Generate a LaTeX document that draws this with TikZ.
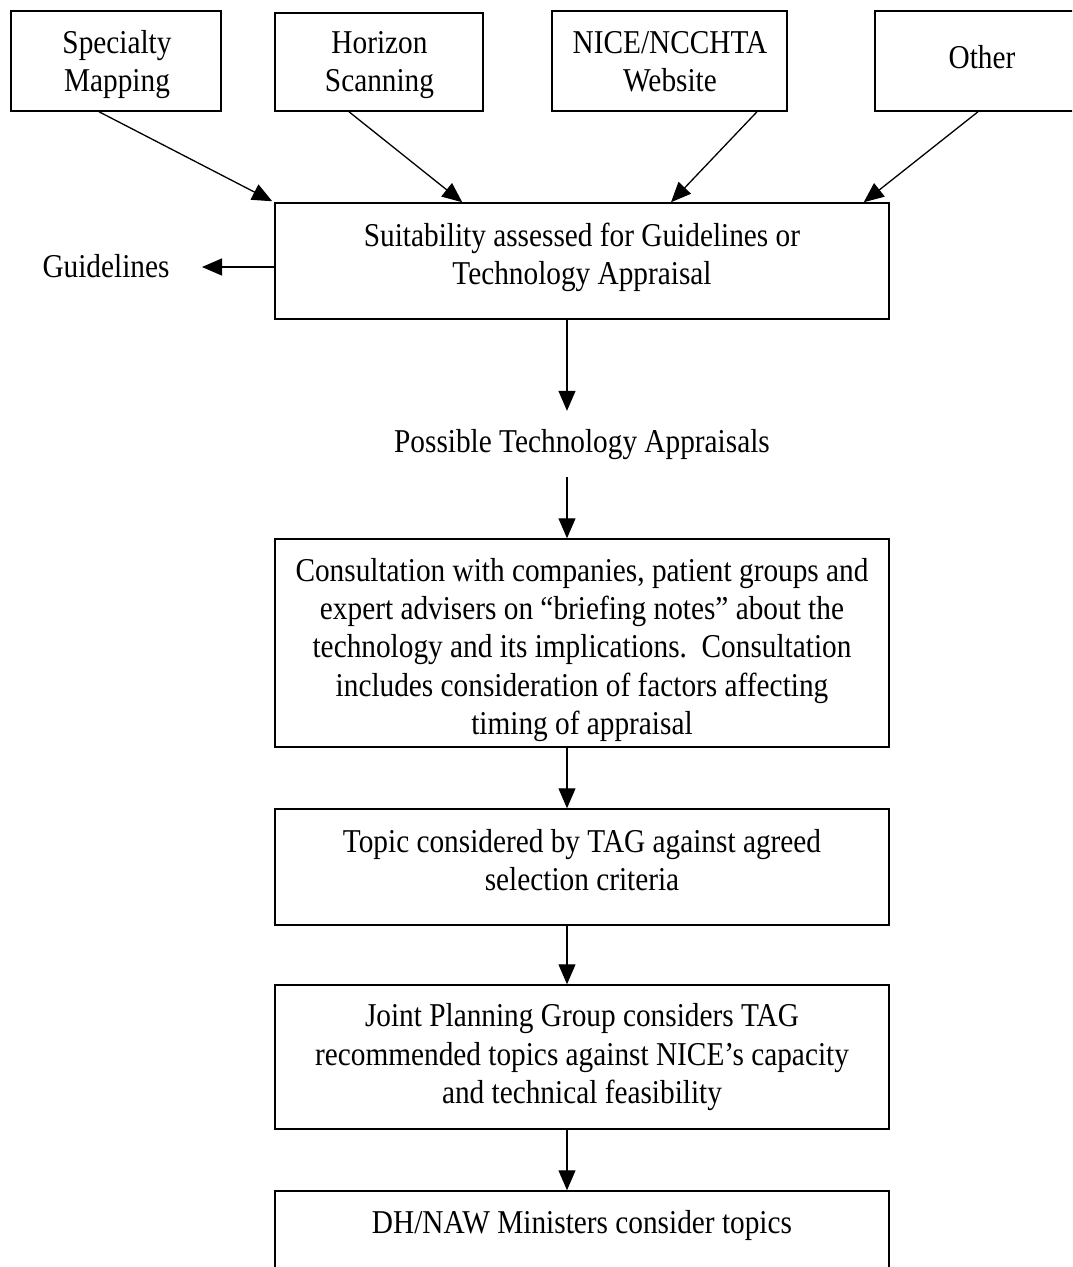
\documentclass[tikz,border=0pt]{standalone}
\usepackage{fontspec}
\setmainfont{Liberation Serif}[FakeStretch=0.88]
\usetikzlibrary{arrows.meta,calc}
\newcommand{\mltext}[1]{\begin{tabular}[t]{@{}c@{}}#1\end{tabular}}
\begin{document}
\begin{tikzpicture}[x=1pt,y=-1pt,
  box/.style={draw=black,line width=1.5pt,inner sep=0pt,fill=none},
  txt/.style={inner sep=0pt,anchor=base,font=\fontsize{33.3}{38.3}\selectfont},
  arr/.style={line width=1.3pt,-{Triangle[length=20pt,width=17pt]}}]
\useasboundingbox (0,0) rectangle (1072,1267);
\clip (0,0) rectangle (1072,1267);
% source boxes
\node[box,minimum width=210,minimum height=100] (spec) at (116,61) {};
\node[box,minimum width=208,minimum height=98] (hor) at (379,62) {};
\node[box,minimum width=235,minimum height=100] (nice) at (669.5,61) {};
\node[box,minimum width=212,minimum height=100] (other) at (981,61) {};
\node[txt] (tspec) at (117,53) {\mltext{Specialty\\Mapping}};
\node[txt] (thor) at (379.5,53) {\mltext{Horizon\\Scanning}};
\node[txt] (tnice) at (670,53) {\mltext{NICE/NCCHTA\\Website}};
\node[txt] (tother) at (982,68) {Other};
% main column
\node[box,minimum width=614,minimum height=116] (suit) at (582,261) {};
\node[txt] (tsuit) at ([yshift=-44pt]suit.north) {\mltext{Suitability assessed for Guidelines or\\Technology Appraisal}};
\node[txt] (guide) at (106,277) {Guidelines};
\coordinate (gtip) at (202,267);
\node[txt,text height=23pt,text depth=7pt,inner ysep=18pt] (poss) at (582,452) {Possible Technology Appraisals};
\node[box,minimum width=614,minimum height=208] (cons) at (582,643) {};
\node[txt] (tcons) at ([yshift=-43pt]cons.north) {\mltext{Consultation with companies, patient groups and\\expert advisers on “briefing notes” about the\\technology and its implications.\ \ Consultation\\includes consideration of factors affecting\\timing of appraisal}};
\node[box,minimum width=614,minimum height=116] (topic) at (582,867) {};
\node[txt] (ttopic) at ([yshift=-44pt]topic.north) {\mltext{Topic considered by TAG against agreed\\selection criteria}};
\node[box,minimum width=614,minimum height=144] (joint) at (582,1057) {};
\node[txt] (tjoint) at ([yshift=-42.5pt]joint.north) {\mltext{Joint Planning Group considers TAG\\recommended topics against NICE’s capacity\\and technical feasibility}};
\node[box,minimum width=614,minimum height=116] (dh) at (582,1249) {};
\node[txt] (tdh) at ([yshift=-43pt]dh.north) {DH/NAW Ministers consider topics};
% connectors
\coordinate (ax) at (567,0);
\draw[arr] ([xshift=-17pt]spec.south) -- ([xshift=-2pt,yshift=1pt]suit.north west);
\draw[arr] ([xshift=-30pt]hor.south) -- ([xshift=188pt]suit.north west);
\draw[arr] ([xshift=87.5pt]nice.south) -- ([xshift=89pt]suit.north);
\draw[arr] ([xshift=-3pt]other.south) -- ([xshift=-26pt]suit.north east);
\draw[arr] ([yshift=-6pt]suit.west) -- (gtip);
\draw[arr] (suit.south -| ax) -- (poss.north -| ax);
\draw[arr] (poss.south -| ax) -- (cons.north -| ax);
\draw[arr] (cons.south -| ax) -- (topic.north -| ax);
\draw[arr] (topic.south -| ax) -- (joint.north -| ax);
\draw[arr] (joint.south -| ax) -- (dh.north -| ax);
\end{tikzpicture}
\end{document}
